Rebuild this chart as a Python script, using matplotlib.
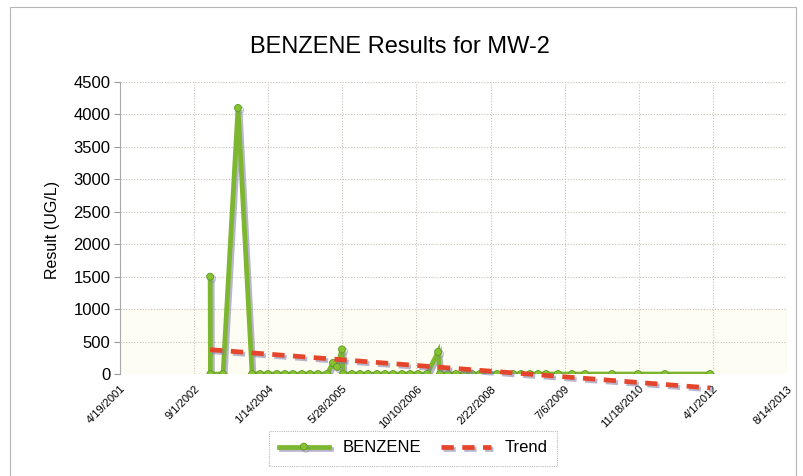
import matplotlib
matplotlib.use("Agg")
import matplotlib.pyplot as plt
import matplotlib.patheffects as pe
from matplotlib.patches import Rectangle
import numpy as np
import pandas as pd

# =========================================================
# Dados (aproximados)
# =========================================================

sample_dates = [
    "2002-12-18", "2002-12-20", "2003-03-15", "2003-06-24", "2003-09-27",
    "2003-11-20", "2004-01-13", "2004-03-13", "2004-05-06", "2004-06-29",
    "2004-08-29", "2004-10-22", "2004-12-15", "2005-02-14", "2005-03-26",
    "2005-04-22", "2005-05-26", "2005-06-02", "2005-08-01", "2005-09-24",
    "2005-11-17", "2006-01-17", "2006-03-12", "2006-05-05", "2006-07-05",
    "2006-08-28", "2006-10-21", "2006-12-21", "2007-03-05", "2007-03-18",
    "2007-05-11", "2007-07-04", "2007-08-27", "2007-10-20", "2007-12-13",
    "2008-02-12", "2008-04-06", "2008-05-30", "2008-07-23", "2008-09-15",
    "2008-11-15", "2009-01-08", "2009-03-03", "2009-05-22", "2009-08-25",
    "2009-11-21", "2010-05-22", "2010-11-13", "2011-05-14", "2012-03-13",
]
benzene = [
    1500, 0, 0, 4100, 0,
    0, 0, 0, 0, 0,
    0, 0, 0, 0, 170,
    110, 380, 0, 0, 0,
    0, 0, 0, 0, 0,
    0, 0, 0, 340, 0,
    0, 0, 0, 0, 0,
    0, 0, 0, 0, 0,
    0, 0, 0, 0, 0,
    0, 0, 0, 0, 0,
]

trend_dates = ["2002-12-18", "2012-03-13"]
trend_values = [375, -215]

tick_dates = ["2001-04-19", "2002-09-01", "2004-01-14", "2005-05-28", "2006-10-10",
              "2008-02-22", "2009-07-06", "2010-11-18", "2012-04-01", "2013-08-14"]
tick_labels = ["4/19/2001", "9/1/2002", "1/14/2004", "5/28/2005", "10/10/2006",
               "2/22/2008", "7/6/2009", "11/18/2010", "4/1/2012", "8/14/2013"]

GREEN = "#7db72f"
RED = "#e5462b"
SHADOW = "#7f7aa8"

plt.rcParams['font.family'] = ['Liberation Sans', 'DejaVu Sans']

fig = plt.figure(figsize=(8.04, 4.76), dpi=100)
ax = fig.add_axes([120 / 804, 1 - 374 / 476, 667 / 804, 292 / 476])

dates = pd.to_datetime(sample_dates)
tdates = pd.to_datetime(trend_dates)
ticks = pd.to_datetime(tick_dates)

# faixa clara de fundo
ax.axhspan(0, 1000, color="#fefdf4", zorder=0)

shadow = [pe.SimpleLineShadow(offset=(1.5, -1.5), shadow_color=SHADOW, alpha=0.55), pe.Normal()]

ax.plot(dates, benzene, color=GREEN, lw=3.4, marker="o", ms=5,
        mfc="#86c232", mec="#5f9a22", mew=0.6, label="BENZENE",
        path_effects=shadow, zorder=3, solid_joinstyle="miter")
ax.plot(tdates, trend_values, color=RED, lw=3.4, ls=(0, (2.6, 1.8)),
        label="Trend", path_effects=shadow, zorder=4, clip_on=False)

ax.set_xlim(ticks[0], ticks[-1])
ax.set_ylim(0, 4500)
ax.set_yticks(np.arange(0, 4501, 500))
ax.set_xticks(ticks)
ax.set_xticklabels(tick_labels, rotation=45, ha="right", rotation_mode="anchor",
                   fontsize=8)
ax.tick_params(axis="x", length=0, pad=7)
ax.tick_params(axis="y", labelsize=12, length=4, color="#999999", pad=3)

ax.grid(True, color="#c9c2b8", lw=0.8, ls=(0, (1, 1.5)))
ax.set_axisbelow(True)
for s in ["top", "right", "bottom"]:
    ax.spines[s].set_visible(False)
ax.spines["left"].set_color("#aaaaaa")
ax.spines["left"].set_linewidth(0.8)

fig.text(400 / 804, 1 - 47 / 476, "BENZENE Results for MW-2", fontsize=17,
         ha="center", va="center")
fig.text(53 / 804, 1 - 230 / 476, "Result (UG/L)", fontsize=11.5,
         rotation=90, ha="center", va="center")

leg = fig.legend(loc="center", bbox_to_anchor=(413 / 804, 1 - 448 / 476),
                 ncol=2, fontsize=12, frameon=True, fancybox=False,
                 handlelength=3.0, columnspacing=1.2, handletextpad=0.8,
                 borderpad=0.6)
leg.get_frame().set_edgecolor("#aaaaaa")
leg.get_frame().set_linestyle((0, (1, 1)))
leg.get_frame().set_linewidth(0.8)

# moldura externa
fig.patches.append(Rectangle((10 / 804, -0.05), 786 / 804, 1 - 7 / 476 + 0.05,
                             transform=fig.transFigure, fill=False,
                             edgecolor="#b5b5b5", lw=0.8))

fig.savefig("out.png", dpi=100)
